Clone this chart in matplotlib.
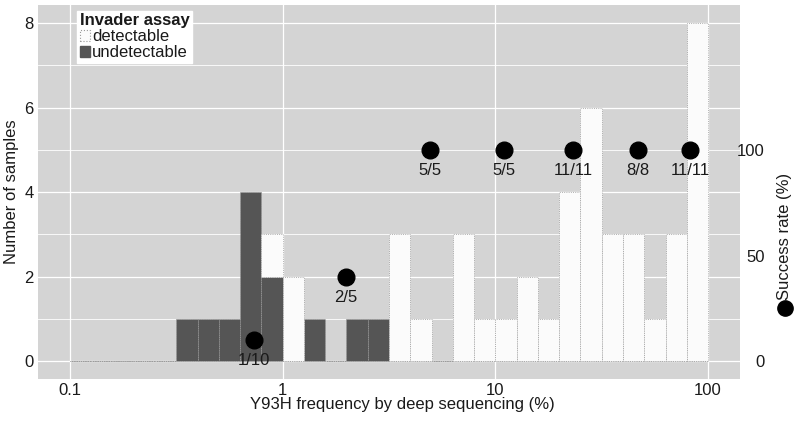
import numpy as np
import matplotlib.pyplot as plt
from matplotlib.patches import Patch
from matplotlib.lines import Line2D

plt.rcParams['font.family'] = ['Liberation Sans', 'DejaVu Sans']

# histogram bins in log10 space, 0.1 wide, from 0.1% to 100%
bin_lo = -1.0
bin_step = 0.1
undetectable = [0, 0, 0, 0, 0, 1, 1, 1, 4, 2,
                0, 1, 0, 1, 1, 0, 0, 0, 0, 0,
                0, 0, 0, 0, 0, 0, 0, 0, 0, 0]
detectable = [0, 0, 0, 0, 0, 0, 0, 0, 0, 1,
              2, 0, 0, 0, 0, 3, 1, 0, 3, 1,
              1, 2, 1, 4, 6, 3, 3, 1, 3, 8]

# success rate points
rate_x = [0.733, 1.99, 4.95, 11.0, 23.2, 46.8, 82.6]
rate_success = [1, 2, 5, 5, 11, 8, 11]
rate_total = [10, 5, 5, 5, 11, 8, 11]

panel_bg = '#d4d4d4'
dark = '#555555'
light = '#fbfbfb'
edge = '#9a9a9a'
txt = '#1a1a1a'

fig = plt.figure(figsize=(8, 4.26), dpi=100)
ax = fig.add_axes([38 / 800, 1 - 379 / 426, (740 - 38) / 800, (379 - 5) / 426])
ax.set_facecolor(panel_bg)
for s in ax.spines.values():
    s.set_visible(False)

ax.set_xscale('log')
ax.set_xlim(10 ** -1.15, 10 ** 2.15)
ax.set_ylim(-0.42, 8.43)

ax.set_yticks([0, 2, 4, 6, 8])
ax.set_yticks([1, 3, 5, 7], minor=True)
ax.set_xticks([0.1, 1, 10, 100])
ax.set_xticklabels(['0.1', '1', '10', '100'])
ax.xaxis.set_minor_locator(plt.NullLocator())
ax.grid(True, which='major', color='white', linewidth=0.9)
ax.grid(True, which='minor', axis='y', color='white', linewidth=0.6)
ax.set_axisbelow(True)
ax.tick_params(which='both', length=0, labelsize=12, colors=txt)
ax.tick_params(axis='x', pad=3)
ax.tick_params(axis='y', pad=3)

n = len(undetectable)
lefts = 10 ** (bin_lo + bin_step * np.arange(n))
rights = 10 ** (bin_lo + bin_step * (np.arange(n) + 1))
widths = rights - lefts
und = np.array(undetectable)
det = np.array(detectable)

ax.bar(lefts, und, width=widths, align='edge', color=dark,
       edgecolor=edge, linewidth=0.6, linestyle=':', zorder=2)
ax.bar(lefts, det, width=widths, bottom=und, align='edge', color=light,
       edgecolor=edge, linewidth=0.6, linestyle=':', zorder=2)

# success rate on count scale: 100% -> 5
rate = np.array(rate_success) / np.array(rate_total) * 100
ax.plot(rate_x, rate / 20, 'o', color='black', markersize=12, zorder=4)
for x, r, s, t in zip(rate_x, rate, rate_success, rate_total):
    ax.annotate(f'{s}/{t}', (x, r / 20), xytext=(0, -9.5), textcoords='offset points',
                ha='center', va='top', fontsize=12, color=txt, zorder=5)

ax.set_xlabel('Y93H frequency by deep sequencing (%)', fontsize=12, color=txt)
ax.xaxis.set_label_coords((402 - 38) / 702, -(405 - 379) / 374)
ax.xaxis.label.set_va('center')
ax.set_ylabel('Number of samples', fontsize=12, color=txt)
ax.yaxis.set_label_coords((12 - 38) / 702, 0.5)
ax.yaxis.label.set_va('center')

ax2 = ax.twinx()
ax2.set_ylim(np.array(ax.get_ylim()) * 20)
ax2.set_yticks([0, 50, 100])
ax2.tick_params(length=0, labelsize=12, colors=txt, pad=18)
for lab in ax2.get_yticklabels():
    lab.set_horizontalalignment('right')
for s in ax2.spines.values():
    s.set_visible(False)

fig.text(785 / 800, 1 - 236 / 426, 'Success rate (%)', rotation=90,
         ha='center', va='center', fontsize=12, color=txt)
fig.add_artist(Line2D([785 / 800], [1 - 308 / 426], marker='o', color='black',
                      markersize=11, transform=fig.transFigure))

handles = [Patch(facecolor=light, edgecolor=edge, linestyle=':', linewidth=0.8),
           Patch(facecolor=dark, edgecolor=dark)]
leg = ax.legend(handles, ['detectable', 'undetectable'], title='Invader assay',
                loc='upper left', bbox_to_anchor=(39 / 702, 0.984), fontsize=12,
                title_fontproperties={'weight': 'bold', 'size': 12},
                frameon=True, fancybox=False, framealpha=1, edgecolor='white',
                handlelength=0.6, handleheight=0.6, handletextpad=0.15,
                borderpad=0.15, labelspacing=0.05, borderaxespad=0)
leg._legend_box.align = 'left'
leg.get_title().set_color(txt)
for t in leg.get_texts():
    t.set_color(txt)

fig.savefig('out.png', dpi=100)
